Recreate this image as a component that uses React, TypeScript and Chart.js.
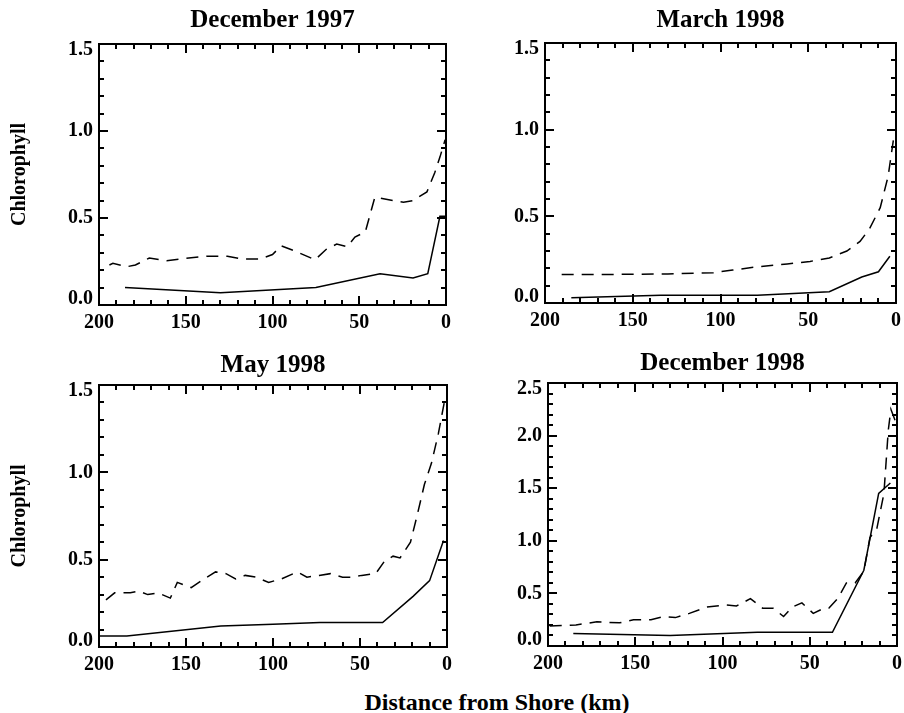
import { useEffect, useRef } from "react";
import { Chart, registerables } from "chart.js";

Chart.register(...registerables);

const SERIF = '"Liberation Serif", "Times New Roman", Times, serif';

// Distance from shore (km) and chlorophyll for each survey.
// "low" is the lower (solid) profile, "high" the upper (dashed) profile.

// December 1997
const dec97LowKm = [185, 130, 75, 38, 19, 10.5, 3.5, 0];
const dec97LowChl = [0.1, 0.07, 0.1, 0.18, 0.155, 0.18, 0.51, 0.51];
const dec97HighKm = [194, 192, 184, 179, 171, 161, 153, 138, 130, 126, 118, 107, 100, 95, 87, 75.5, 69, 63, 57, 52.5, 46.5, 41, 30.5, 24.5, 19, 11, 6.5, 3.5, 0.5];
const dec97HighChl = [0.23, 0.24, 0.22, 0.23, 0.27, 0.255, 0.265, 0.28, 0.28, 0.28, 0.265, 0.265, 0.29, 0.34, 0.31, 0.26, 0.32, 0.35, 0.335, 0.39, 0.42, 0.62, 0.6, 0.59, 0.6, 0.65, 0.76, 0.85, 0.95];

// March 1998
const mar98LowKm = [185, 134, 79, 38, 19.5, 10, 3.5];
const mar98LowChl = [0.03, 0.045, 0.045, 0.065, 0.15, 0.18, 0.27];
const mar98HighKm = [190.5, 160, 130, 104, 93, 78, 62, 49, 38, 28, 20.5, 15, 9, 4.5, 1.5];
const mar98HighChl = [0.165, 0.165, 0.168, 0.175, 0.19, 0.21, 0.225, 0.24, 0.26, 0.3, 0.355, 0.43, 0.55, 0.73, 0.94];

// May 1998
const may98LowKm = [199.5, 184, 130, 100, 73, 37, 19.5, 10, 2];
const may98LowChl = [0.063, 0.063, 0.12, 0.13, 0.14, 0.14, 0.29, 0.38, 0.61];
const may98HighKm = [196, 191, 182, 177, 172, 166, 159, 155, 147, 141, 133, 127, 121.5, 116, 110, 102.5, 95, 86, 80.5, 73.5, 67, 60, 54.5, 49, 41, 36, 31, 27, 21, 17, 13, 9, 5, 1];
const may98HighChl = [0.27, 0.31, 0.31, 0.32, 0.3, 0.31, 0.28, 0.37, 0.34, 0.38, 0.43, 0.42, 0.39, 0.41, 0.4, 0.37, 0.39, 0.43, 0.4, 0.41, 0.42, 0.4, 0.4, 0.41, 0.42, 0.49, 0.52, 0.51, 0.6, 0.76, 0.93, 1.05, 1.22, 1.43];

// December 1998
const dec98LowKm = [185.5, 130, 80, 37, 19, 10.5, 3.8];
const dec98LowChl = [0.12, 0.1, 0.13, 0.13, 0.72, 1.45, 1.55];
const dec98HighKm = [199, 184, 172, 159, 151, 141, 134, 127, 119, 109, 98, 92, 84, 77, 71, 65, 60, 54.5, 48, 43, 39, 34, 29, 24, 19, 15.5, 11.5, 7.5, 5, 3.5, 0.5];
const dec98HighChl = [0.19, 0.2, 0.23, 0.22, 0.25, 0.25, 0.28, 0.27, 0.31, 0.37, 0.39, 0.38, 0.45, 0.36, 0.36, 0.28, 0.37, 0.41, 0.31, 0.35, 0.36, 0.45, 0.6, 0.6, 0.71, 1.03, 1.12, 1.45, 2.05, 2.25, 2.12];

// Axis ranges and tick steps
const distanceRange = [0, 200];
const distanceMinorStep = 10;
const distanceMajorEvery = 5; // labelled every 50 km
const chlMinorStep = 0.1;
const chlMajorEvery = 5; // labelled every 0.5

const xAxisTitle = "Distance from Shore (km)";
const yAxisTitle = "Chlorophyll";

type Series = { km: number[]; chl: number[] };

type PanelSpec = {
  title: string;
  yMax: number;
  low: Series;
  high: Series;
  yTitle: boolean;
  // canvas placement on the page and plot box inside the canvas
  x: number;
  y: number;
  area: { l: number; t: number; r: number; b: number };
  titleTop: number;
};

const CANVAS_W = 452;
const CANVAS_H = 340;

const panels: PanelSpec[] = [
  {
    title: "December 1997",
    yMax: 1.5,
    low: { km: dec97LowKm, chl: dec97LowChl },
    high: { km: dec97HighKm, chl: dec97HighChl },
    yTitle: true,
    x: 0,
    y: 0,
    area: { l: 99, t: 44, r: 446, b: 305 },
    titleTop: 6,
  },
  {
    title: "March 1998",
    yMax: 1.5,
    low: { km: mar98LowKm, chl: mar98LowChl },
    high: { km: mar98HighKm, chl: mar98HighChl },
    yTitle: false,
    x: 452,
    y: 0,
    area: { l: 93, t: 43, r: 444, b: 303 },
    titleTop: 6,
  },
  {
    title: "May 1998",
    yMax: 1.5,
    low: { km: may98LowKm, chl: may98LowChl },
    high: { km: may98HighKm, chl: may98HighChl },
    yTitle: true,
    x: 0,
    y: 340,
    area: { l: 99, t: 45, r: 447, b: 307 },
    titleTop: 11,
  },
  {
    title: "December 1998",
    yMax: 2.5,
    low: { km: dec98LowKm, chl: dec98LowChl },
    high: { km: dec98HighKm, chl: dec98HighChl },
    yTitle: false,
    x: 452,
    y: 340,
    area: { l: 96, t: 43, r: 445, b: 306 },
    titleTop: 9,
  },
];

const MAJOR_TICK = 9;
const MINOR_TICK = 5;
// gap between frame and tick labels; the scale's default 8px tick length is taken back out
const LABEL_PAD = 6 - 8;

// Inward tick marks on all four sides of the frame, positioned through the scales.
const frameTicks = {
  id: "frameTicks",
  afterDraw(chart: any) {
    const ctx = chart.ctx;
    const a = chart.chartArea;
    const xs = chart.scales.x;
    const ys = chart.scales.y;
    ctx.save();
    ctx.strokeStyle = "#000";
    ctx.lineWidth = 2;
    ctx.beginPath();
    const nx = Math.round((distanceRange[1] - distanceRange[0]) / distanceMinorStep);
    for (let i = 0; i <= nx; i++) {
      const px = Math.round(xs.getPixelForValue(distanceRange[0] + i * distanceMinorStep));
      const len = i % distanceMajorEvery === 0 ? MAJOR_TICK : MINOR_TICK;
      ctx.moveTo(px, a.bottom);
      ctx.lineTo(px, a.bottom - len);
      ctx.moveTo(px, a.top);
      ctx.lineTo(px, a.top + len);
    }
    const ny = Math.round(ys.max / chlMinorStep);
    for (let i = 0; i <= ny; i++) {
      const py = Math.round(ys.getPixelForValue(i * chlMinorStep));
      const len = i % chlMajorEvery === 0 ? MAJOR_TICK : MINOR_TICK;
      ctx.moveTo(a.left, py);
      ctx.lineTo(a.left + len, py);
      ctx.moveTo(a.right, py);
      ctx.lineTo(a.right - len, py);
    }
    ctx.stroke();
    ctx.restore();
  },
};

const frameBorder = { display: true, color: "#000", width: 2 };

function Panel({ spec }: { spec: PanelSpec }) {
  const ref = useRef<HTMLCanvasElement>(null);

  useEffect(() => {
    const canvas = ref.current;
    if (!canvas) return;
    const { area, yMax } = spec;
    const titleLine = 25 * 1.2;
    const yTop = Math.round(yMax / chlMinorStep);

    const chart = new Chart(canvas, {
      type: "line",
      data: {
        datasets: [
          {
            data: spec.low.km.map((km, i) => ({ x: km, y: spec.low.chl[i] })),
            borderColor: "#000",
            borderWidth: 1.5,
            pointRadius: 0,
          },
          {
            data: spec.high.km.map((km, i) => ({ x: km, y: spec.high.chl[i] })),
            borderColor: "#000",
            borderWidth: 1.5,
            borderDash: [12, 8],
            pointRadius: 0,
          },
        ],
      },
      options: {
        responsive: false,
        animation: false,
        events: [],
        devicePixelRatio: 1,
        layout: { padding: { left: 0, top: 0, right: CANVAS_W - area.r, bottom: 0 } },
        plugins: {
          legend: { display: false },
          tooltip: { enabled: false },
          title: {
            display: true,
            text: spec.title,
            color: "#000",
            fullSize: false,
            font: { family: SERIF, size: 25, weight: "bold" },
            padding: { top: spec.titleTop, bottom: area.t - titleLine - spec.titleTop },
          },
        },
        scales: {
          x: {
            type: "linear",
            position: "bottom",
            min: distanceRange[0],
            max: distanceRange[1],
            reverse: true,
            grid: { display: false },
            border: frameBorder,
            ticks: {
              stepSize: distanceMinorStep * distanceMajorEvery,
              autoSkip: false,
              maxRotation: 0,
              padding: LABEL_PAD,
              color: "#000",
              font: { family: SERIF, size: 20, weight: "bold" },
              callback: (v: any) => String(Math.round(Number(v))),
            },
            afterFit: (s: any) => {
              s.height = CANVAS_H - area.b;
              s.paddingLeft = 0;
              s.paddingRight = 0;
            },
          },
          x2: {
            type: "linear",
            axis: "x",
            position: "top",
            min: distanceRange[0],
            max: distanceRange[1],
            reverse: true,
            grid: { display: false },
            border: frameBorder,
            ticks: { display: false },
            afterFit: (s: any) => {
              s.height = 0;
            },
          },
          y: {
            type: "linear",
            position: "left",
            min: 0,
            max: yMax,
            grid: { display: false },
            border: frameBorder,
            title: {
              display: spec.yTitle,
              text: yAxisTitle,
              color: "#000",
              font: { family: SERIF, size: 20, weight: "bold" },
              padding: { top: 8, bottom: 0 },
            },
            ticks: {
              stepSize: chlMinorStep * chlMajorEvery,
              autoSkip: false,
              padding: LABEL_PAD,
              color: "#000",
              font: { family: SERIF, size: 20, weight: "bold", lineHeight: 0.6 },
              callback: (v: any) => {
                const n = Math.round(Number(v) / chlMinorStep);
                const s = (n * chlMinorStep).toFixed(1);
                if (n === 0) return [s, ""];
                if (n === yTop) return ["", s];
                return s;
              },
            },
            afterFit: (s: any) => {
              s.width = area.l;
            },
          },
          y2: {
            type: "linear",
            axis: "y",
            position: "right",
            min: 0,
            max: yMax,
            grid: { display: false },
            border: frameBorder,
            ticks: { display: false },
            afterFit: (s: any) => {
              s.width = 0;
            },
          },
        },
      } as any,
      plugins: [frameTicks],
    });

    return () => chart.destroy();
  }, [spec]);

  return (
    <canvas
      ref={ref}
      width={CANVAS_W}
      height={CANVAS_H}
      style={{ position: "absolute", left: spec.x, top: spec.y }}
    />
  );
}

export default function App() {
  return (
    <div
      style={{
        position: "absolute",
        left: 0,
        top: 0,
        width: 904,
        height: 713,
        background: "#fff",
        overflow: "hidden",
      }}
    >
      {panels.map((p) => (
        <Panel key={p.title} spec={p} />
      ))}
      <div
        style={{
          position: "absolute",
          left: 297,
          top: 688,
          width: 400,
          textAlign: "center",
          fontFamily: SERIF,
          fontWeight: "bold",
          fontSize: 24,
          lineHeight: "28px",
          color: "#000",
          whiteSpace: "nowrap",
        }}
      >
        {xAxisTitle}
      </div>
    </div>
  );
}
